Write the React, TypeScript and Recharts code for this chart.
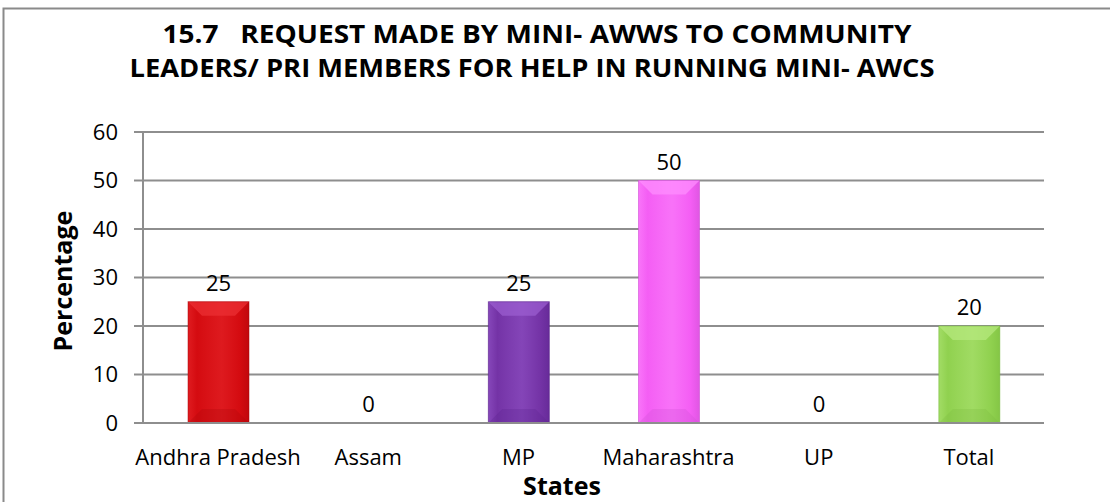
import { BarChart, Bar, XAxis, YAxis, CartesianGrid, LabelList } from 'recharts'

const states = ['Andhra Pradesh', 'Assam', 'MP', 'Maharashtra', 'UP', 'Total']
const percentages = [25, 0, 25, 50, 0, 20]
const yTicks = [0, 10, 20, 30, 40, 50, 60]

// base / light / dark tone for each bar
const barColors = [
  ['#d40b10', '#ec3034', '#a80308'],
  ['#9a9a9a', '#bbbbbb', '#777777'],
  ['#7433a6', '#9c5fd2', '#57218a'],
  ['#f45ef4', '#ff90ff', '#c84ccf'],
  ['#9a9a9a', '#bbbbbb', '#777777'],
  ['#90d14f', '#b8ea80', '#76b93a'],
]

const data = states.map((state, i) => ({ state, value: percentages[i], idx: i }))

const FONT = '"Open Sans", sans-serif'

function BevelBar(props: any) {
  const { x, y, width, height, payload } = props
  if (!height || height <= 0) return null
  const [base, light, dark] = barColors[payload.idx]
  const id = `bar-grad-${payload.idx}`
  const b = Math.min(14, width / 4, height / 3)
  return (
    <g>
      <defs>
        <linearGradient id={id} x1="0" y1="0" x2="1" y2="0">
          <stop offset="0%" stopColor={light} />
          <stop offset="15%" stopColor={base} />
          <stop offset="55%" stopColor={light} stopOpacity={0.9} />
          <stop offset="85%" stopColor={base} />
          <stop offset="100%" stopColor={dark} />
        </linearGradient>
      </defs>
      <rect x={x} y={y} width={width} height={height} fill={base} />
      <rect x={x} y={y} width={width} height={height} fill={`url(#${id})`} opacity={0.45} />
      <polygon
        points={`${x},${y} ${x + width},${y} ${x + width - b},${y + b} ${x + b},${y + b}`}
        fill={light}
        opacity={0.7}
      />
      <polygon
        points={`${x},${y + height} ${x + width},${y + height} ${x + width - b},${y + height - b} ${x + b},${y + height - b}`}
        fill={dark}
        opacity={0.25}
      />
      <rect x={x} y={y} width={width} height={height} fill="none" stroke={dark} strokeOpacity={0.5} />
    </g>
  )
}

export default function App() {
  return (
    <div style={{ position: 'absolute', left: 0, top: 0, width: 1110, height: 502, background: '#fff' }}>
      <BarChart
        width={1110}
        height={502}
        data={data}
        margin={{ top: 132, right: 66, bottom: 49, left: 0 }}
      >
        <CartesianGrid vertical={false} stroke="#8e8e8e" strokeWidth={2} />
        <XAxis
          dataKey="state"
          height={30}
          tickLine={false}
          tickSize={0}
          tickMargin={26}
          axisLine={{ stroke: '#8e8e8e', strokeWidth: 2 }}
          tick={{ fill: '#000', fontSize: 22, fontFamily: FONT }}
          interval={0}
        />
        <YAxis
          width={143}
          domain={[0, 60]}
          ticks={yTicks}
          tickSize={9}
          tickMargin={16}
          tickLine={{ stroke: '#8e8e8e', strokeWidth: 2 }}
          axisLine={{ stroke: '#8e8e8e', strokeWidth: 2 }}
          tick={{ fill: '#000', fontSize: 22, fontFamily: FONT }}
        />
        <Bar dataKey="value" barSize={61} shape={BevelBar} isAnimationActive={false}>
          <LabelList dataKey="value" position="top" offset={11} fill="#000" fontSize={22} fontFamily={FONT} />
        </Bar>
      </BarChart>
      <svg
        width={1110}
        height={502}
        style={{ position: 'absolute', left: 0, top: 0, pointerEvents: 'none' }}
      >
        <rect x={3.5} y={8.5} width={1120} height={510} fill="none" stroke="#8a8a8a" strokeWidth={2} />
        <text x={537} y={43} textAnchor="middle" fontFamily={FONT} fontWeight="bold" fontSize={25} fill="#000"
          textLength={749} lengthAdjust="spacingAndGlyphs" xmlSpace="preserve">
          15.7   REQUEST MADE BY MINI- AWWS TO COMMUNITY
        </text>
        <text x={532} y={77} textAnchor="middle" fontFamily={FONT} fontWeight="bold" fontSize={25} fill="#000"
          textLength={805} lengthAdjust="spacingAndGlyphs">
          LEADERS/ PRI MEMBERS FOR HELP IN RUNNING MINI- AWCS
        </text>
        <text x={72} y={281} transform="rotate(-90 72 281)" textAnchor="middle" fontFamily={FONT}
          fontWeight="bold" fontSize={25} fill="#000">
          Percentage
        </text>
        <text x={562} y={495} textAnchor="middle" fontFamily={FONT} fontWeight="bold" fontSize={25} fill="#000">
          States
        </text>
      </svg>
    </div>
  )
}
